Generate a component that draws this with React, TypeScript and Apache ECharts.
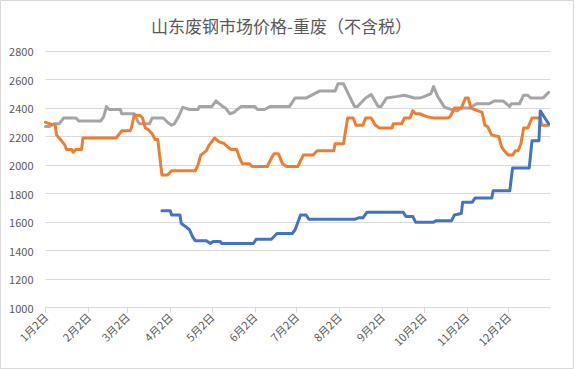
import React, { useEffect, useRef } from "react";
import * as echarts from "echarts";

const titleText = "山东废钢市场价格-重废（不含税）";

const tickDates = ["01-02", "02-02", "03-02", "04-02", "05-02", "06-02", "07-02", "08-02", "09-02", "10-02", "11-02", "12-02"];
const tickLabels = ["1月2日", "2月2日", "3月2日", "4月2日", "5月2日", "6月2日", "7月2日", "8月2日", "9月2日", "10月2日", "11月2日", "12月2日"];

const yTicks = [1000, 1200, 1400, 1600, 1800, 2000, 2200, 2400, 2600, 2800];

const grayDates = ["01-02", "01-05", "01-08", "01-12", "01-15", "01-24", "01-26", "02-11", "02-13", "02-15", "02-17", "02-25", "02-26", "03-07", "03-10", "03-11", "03-18", "03-20", "03-28", "03-31", "04-03", "04-05", "04-08", "04-11", "04-16", "04-22", "04-23", "05-02", "05-05", "05-10", "05-12", "05-15", "05-18", "05-23", "06-02", "06-04", "06-09", "06-13", "06-27", "07-01", "07-09", "07-11", "07-19", "07-30", "08-01", "08-05", "08-13", "08-15", "08-21", "08-25", "08-30", "09-01", "09-05", "09-12", "09-18", "09-25", "09-29", "10-02", "10-07", "10-09", "10-12", "10-17", "10-22", "10-26", "10-29", "11-04", "11-09", "11-18", "11-22", "11-28", "12-03", "12-04", "12-10", "12-13", "12-16", "12-18", "12-27", "12-31"];
const grayValues = [2270, 2270, 2290, 2290, 2330, 2330, 2310, 2310, 2340, 2410, 2390, 2390, 2360, 2360, 2300, 2290, 2290, 2330, 2330, 2300, 2280, 2290, 2340, 2405, 2390, 2390, 2410, 2410, 2450, 2410, 2400, 2360, 2370, 2410, 2410, 2390, 2390, 2410, 2410, 2470, 2470, 2480, 2520, 2520, 2570, 2570, 2410, 2410, 2470, 2495, 2410, 2410, 2470, 2480, 2490, 2470, 2470, 2480, 2500, 2550, 2480, 2405, 2390, 2380, 2400, 2400, 2430, 2430, 2450, 2450, 2410, 2430, 2430, 2490, 2490, 2470, 2470, 2510];

const orangeDates = ["01-02", "01-05", "01-09", "01-10", "01-14", "01-16", "01-17", "01-21", "01-22", "01-24", "01-28", "01-29", "02-22", "02-26", "03-04", "03-05", "03-07", "03-11", "03-13", "03-15", "03-17", "03-20", "03-22", "03-24", "03-27", "03-31", "04-03", "04-20", "04-22", "04-24", "04-28", "04-30", "05-04", "05-07", "05-11", "05-13", "05-16", "05-20", "05-22", "05-24", "05-29", "05-31", "06-11", "06-14", "06-16", "06-19", "06-22", "06-25", "07-03", "07-07", "07-14", "07-17", "07-29", "07-30", "08-05", "08-08", "08-12", "08-14", "08-19", "08-21", "08-25", "08-28", "08-31", "09-09", "09-10", "09-16", "09-18", "09-22", "09-24", "09-26", "09-29", "10-04", "10-09", "10-19", "10-21", "10-24", "10-29", "11-01", "11-03", "11-05", "11-13", "11-15", "11-17", "11-20", "11-25", "11-27", "11-29", "12-02", "12-05", "12-07", "12-09", "12-11", "12-13", "12-16", "12-19", "12-25", "12-26", "12-31"];
const orangeValues = [2300, 2290, 2280, 2210, 2165, 2140, 2110, 2110, 2090, 2110, 2110, 2190, 2190, 2240, 2240, 2260, 2350, 2350, 2330, 2260, 2250, 2220, 2180, 2180, 1930, 1930, 1960, 1960, 2000, 2070, 2100, 2140, 2190, 2165, 2150, 2130, 2110, 2110, 2050, 2010, 2010, 1990, 1990, 2050, 2080, 2080, 2010, 1990, 1990, 2070, 2070, 2100, 2100, 2150, 2150, 2330, 2330, 2280, 2280, 2330, 2330, 2280, 2260, 2260, 2290, 2290, 2330, 2330, 2380, 2360, 2360, 2340, 2330, 2330, 2340, 2400, 2400, 2470, 2470, 2400, 2370, 2280, 2270, 2210, 2200, 2130, 2100, 2070, 2070, 2100, 2100, 2150, 2260, 2260, 2330, 2330, 2280, 2280];

const blueDates = ["03-27", "04-02", "04-03", "04-09", "04-10", "04-13", "04-16", "04-18", "04-20", "04-28", "05-01", "05-03", "05-08", "05-09", "06-01", "06-03", "06-14", "06-18", "06-29", "07-01", "07-05", "07-09", "07-11", "08-13", "08-16", "08-19", "08-22", "09-17", "09-19", "09-24", "09-26", "10-09", "10-11", "10-22", "10-24", "10-29", "10-30", "11-06", "11-08", "11-20", "11-21", "12-03", "12-05", "12-17", "12-19", "12-24", "12-25", "12-31"];
const blueValues = [1680, 1680, 1650, 1650, 1590, 1570, 1545, 1500, 1470, 1470, 1450, 1465, 1465, 1450, 1450, 1480, 1480, 1520, 1520, 1545, 1650, 1650, 1620, 1620, 1630, 1630, 1670, 1670, 1640, 1640, 1600, 1600, 1610, 1610, 1650, 1660, 1740, 1740, 1770, 1770, 1820, 1820, 1980, 1980, 2170, 2170, 2380, 2290];

const YEAR = 2019;
const toDay = (s: string): number => {
  const [m, d] = s.split("-").map(Number);
  return (Date.UTC(YEAR, m - 1, d) - Date.UTC(YEAR, 0, 2)) / 86400000;
};
const AXIS_END = toDay("12-31") + 1;

const tickDays = tickDates.map(toDay);

const pairs = (dates: string[], values: number[]) => dates.map((d, i) => [toDay(d), values[i]]);

const FONT = "'Noto Sans CJK SC', 'Noto Sans', sans-serif";

export default function App() {
  const ref = useRef<HTMLDivElement>(null);
  useEffect(() => {
    document.body.style.margin = "0";
    if (!ref.current) return;
    const chart = echarts.init(ref.current, null, { renderer: "svg" });
    const lineSeries = (name: string, dates: string[], values: number[], color: string) => ({
      name,
      type: "line",
      data: pairs(dates, values),
      showSymbol: false,
      symbol: "none",
      smooth: false,
      lineStyle: { width: 3, color, cap: "round", join: "round" },
      itemStyle: { color },
      z: 2,
    });
    chart.setOption({
      animation: false,
      backgroundColor: "#ffffff",
      textStyle: { fontFamily: FONT },
      grid: { left: 45.5, right: 25, top: 51, bottom: 61.3 },
      graphic: [
        {
          type: "rect",
          shape: { x: 0.5, y: 0.5, width: 573, height: 368 },
          style: { fill: "none", stroke: "#d9d9d9", lineWidth: 1 },
          silent: true,
        },
        {
          type: "text",
          x: 281.5,
          y: 25,
          style: {
            text: titleText,
            align: "center",
            verticalAlign: "middle",
            fontSize: 17,
            fontFamily: FONT,
            fill: "#595959",
          },
        },
      ],
      xAxis: {
        type: "value",
        min: 0,
        max: AXIS_END,
        splitLine: { show: false },
        axisLine: { show: true, lineStyle: { color: "#d9d9d9", width: 1 } },
        axisTick: { show: true, customValues: tickDays, length: 5, lineStyle: { color: "#d9d9d9" } },
        axisLabel: {
          customValues: tickDays,
          rotate: 45,
          margin: 7,
          fontSize: 11,
          fontFamily: FONT,
          color: "#595959",
          formatter: (v: number) => {
            const i = tickDays.indexOf(v);
            return i >= 0 ? tickLabels[i] : "";
          },
        },
      },
      yAxis: {
        type: "value",
        min: yTicks[0],
        max: yTicks[yTicks.length - 1],
        interval: 200,
        axisLine: { show: false },
        axisTick: { show: false },
        splitLine: { show: true, lineStyle: { color: "#d9d9d9", width: 1 } },
        axisLabel: {
          margin: 12,
          fontSize: 11,
          fontFamily: FONT,
          color: "#595959",
          formatter: (v: number) => String(v),
        },
      },
      series: [
        lineSeries("gray", grayDates, grayValues, "#A5A5A5"),
        lineSeries("orange", orangeDates, orangeValues, "#ED7D31"),
        lineSeries("blue", blueDates, blueValues, "#4472C4"),
      ],
    });
    return () => chart.dispose();
  }, []);
  return <div ref={ref} style={{ width: 575, height: 369 }} />;
}
